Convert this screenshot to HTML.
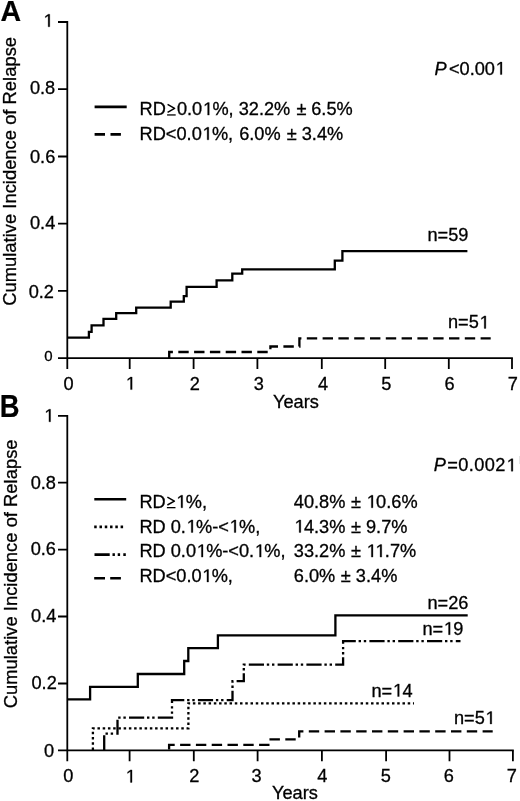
<!DOCTYPE html>
<html><head><meta charset="utf-8">
<style>
html,body{margin:0;padding:0;background:#fff;}
svg{display:block;will-change:transform;}
text{font-family:"Liberation Sans",sans-serif;fill:#000;stroke:#000;stroke-width:0.3px;}
.g1{fill:#000;stroke:#000;stroke-width:0.3px;vector-effect:non-scaling-stroke;}
.gge path{fill:none;stroke:#000;stroke-width:1.5;stroke-linejoin:round;}
.bl{font-weight:bold;font-size:28.5px;stroke-width:0.2px;}
.t{font-size:18.2px;}
.yl{font-size:18.2px;text-anchor:end;}
.xl{font-size:18.2px;text-anchor:middle;}
.ax{stroke:#000;stroke-width:1.8;fill:none;}
.cv{stroke:#000;stroke-width:2.3;fill:none;}
.lg{stroke:#000;stroke-width:2.6;fill:none;}
.hid{fill-opacity:0;stroke-opacity:0;}
</style></head>
<body>
<svg width="520" height="801" viewBox="0 0 520 801">
<rect width="520" height="801" fill="#fff"/>
<!-- ===== Panel A ===== -->
<text class="bl" transform="translate(0.4,20.75) scale(1,1.05)">A</text>
<text transform="translate(16,305.8) rotate(-90)" class="t" style="font-size:18.4px">Cumulative Incidence of Relapse</text>
<!-- axes -->
<path class="ax" d="M67.3,21.1 V369.1 M58,358.2 H512.9"/>
<path class="ax" d="M58,22 H67.3 M58,89.2 H67.3 M58,156.5 H67.3 M58,223.7 H67.3 M58,290.9 H67.3"/>
<path class="ax" d="M129.7,358.2 V369.1 M193.6,358.2 V369.1 M257.4,358.2 V369.1 M321.8,358.2 V369.1 M385.2,358.2 V369.1 M448.8,358.2 V369.1 M512,358.2 V369.1"/>
<text class="yl" x="52.9" y="26.8"><tspan class="hid h1">1</tspan></text>
<text class="yl" x="55.2" y="93.6">0.8</text>
<text class="yl" x="55.3" y="162.6">0.6</text>
<text class="yl" x="55.3" y="228.6">0.4</text>
<text class="yl" x="54" y="297.6">0.2</text>
<text class="yl" x="52.7" y="361.4" style="font-size:15px">0</text>
<text class="xl" x="68.5" y="389.6">0</text>
<text class="xl" x="130.2" y="389.6"><tspan class="hid h1">1</tspan></text>
<text class="xl" x="194.8" y="389.6">2</text>
<text class="xl" x="258.9" y="389.6">3</text>
<text class="xl" x="323" y="389.6">4</text>
<text class="xl" x="386.4" y="389.6">5</text>
<text class="xl" x="449.6" y="389.6">6</text>
<text class="xl" x="512.8" y="389.6">7</text>
<text class="t" x="273" y="408">Years</text>
<text class="t" x="434.5" y="74.6"><tspan font-style="italic">P</tspan><tspan dx="2.3">&lt;0.00<tspan class="hid h1">1</tspan></tspan></text>
<!-- legend A -->
<path class="lg" d="M94.6,106.9 H126.7"/>
<path class="lg" d="M94.6,134.4 H105 M110.5,134.4 H120.9"/>
<text class="t" x="139.6" y="115.1">RD<tspan class="hid hge">≥</tspan><tspan dx="1.1">0.0<tspan class="hid h1">1</tspan>%, 32.2% </tspan><tspan dx="1.2">±</tspan><tspan dx="-0.3"> 6.5%</tspan></text>
<text class="t" x="139.6" y="139.8">RD&lt;0.0<tspan class="hid h1">1</tspan>%, <tspan dx="1">6.0% </tspan><tspan dx="1.1">±</tspan><tspan dx="-0.1"> 3.4%</tspan></text>
<!-- curves A -->
<path class="cv" d="M67.3,337.7 H88.9 V331.9 H91.6 V325.3 H103.5 V318.8 H116.2 V313.1 H136.2 V307.7 H170.7 V301.7 H183.8 V296.2 H186.6 V286.8 H216.6 V280.4 H232.3 V273.6 H242.2 V269.4 H334.8 V260.6 H342.4 V251.2 H467.4"/>
<path class="cv" stroke-dasharray="10.4 5.4" stroke-dashoffset="0.5" d="M169.2,358.2 V352 H270.4 V346.5 H299.4 V338.3 H490.7"/>
<text class="t" x="427.5" y="240.8">n=59</text>
<text class="t" x="448" y="328.4">n=5<tspan class="hid h1">1</tspan></text>

<!-- ===== Panel B ===== -->
<text class="bl" transform="translate(-0.3,416.9) scale(0.96,1.08)">B</text>
<text transform="translate(17.4,708.3) rotate(-90)" class="t" style="font-size:18.4px">Cumulative Incidence of Relapse</text>
<path class="ax" d="M67.3,414.9 V761.2 M58,750.4 H513.8"/>
<path class="ax" d="M58,415.8 H67.3 M58,482.7 H67.3 M58,549.6 H67.3 M58,616.5 H67.3 M58,683.5 H67.3"/>
<path class="ax" d="M129.6,750.4 V761.2 M193.8,750.4 V761.2 M257.6,750.4 V761.2 M321.9,750.4 V761.2 M386.1,750.4 V761.2 M449.5,750.4 V761.2 M512.9,750.4 V761.2"/>
<text class="yl" x="53.7" y="421.8"><tspan class="hid h1">1</tspan></text>
<text class="yl" x="56" y="488.5">0.8</text>
<text class="yl" x="56" y="555.4">0.6</text>
<text class="yl" x="56.4" y="622.3">0.4</text>
<text class="yl" x="56.8" y="688.9">0.2</text>
<text class="yl" x="54" y="756.8">0</text>
<text class="xl" x="68.2" y="782.4">0</text>
<text class="xl" x="130.1" y="782.4"><tspan class="hid h1">1</tspan></text>
<text class="xl" x="194.4" y="782.4">2</text>
<text class="xl" x="256.5" y="782.4">3</text>
<text class="xl" x="322.2" y="782.4">4</text>
<text class="xl" x="385.9" y="782.4">5</text>
<text class="xl" x="448.8" y="782.4">6</text>
<text class="xl" x="511.7" y="782.4">7</text>
<text class="t" x="272" y="799.4">Years</text>
<text class="t" x="433.7" y="471.2"><tspan font-style="italic">P</tspan><tspan dx="1.5" letter-spacing="0.4">=0.002<tspan class="hid h1">1</tspan></tspan></text>
<rect x="519" y="456" width="1" height="8" fill="#e4e4e4"/>
<!-- legend B -->
<path class="lg" d="M94.3,499.3 H126.2"/>
<path class="lg" stroke-dasharray="2.5 2.78" d="M94.2,526.9 H123.3"/>
<path class="lg" stroke-dasharray="15.2 2.8 2.4 2.8 2.4 3.2" d="M94.5,554.6 H125.8"/>
<path class="lg" d="M94.2,578.3 H105 M110.2,578.3 H120.9"/>
<text class="t" x="139.4" y="507.8">RD<tspan class="hid hge">≥</tspan><tspan class="hid h1">1</tspan>%,</text>
<text class="t" x="139.4" y="532.5">RD 0.<tspan class="hid h1">1</tspan>%-&lt;<tspan class="hid h1">1</tspan>%,</text>
<text class="t" x="139.4" y="557.1">RD 0.0<tspan class="hid h1">1</tspan>%-&lt;0.<tspan class="hid h1">1</tspan>%,</text>
<text class="t" x="139.4" y="582">RD&lt;0.0<tspan class="hid h1">1</tspan>%,</text>
<text class="t" x="293.8" y="507.8">40.8% <tspan dx="0.5">±</tspan> <tspan class="hid h1">1</tspan>0.6%</text>
<text class="t" x="293.8" y="532.5"><tspan class="hid h1">1</tspan>4.3% <tspan dx="0.5">±</tspan> 9.7%</text>
<text class="t" x="293.8" y="557.1">33.2% <tspan dx="0.5">±</tspan> <tspan class="hid h1">1</tspan><tspan class="hid h1">1</tspan>.7%</text>
<text class="t" x="293.8" y="582">6.0% <tspan dx="0.5">±</tspan> 3.4%</text>
<!-- curves B -->
<path class="cv" d="M67.3,699.3 H90.1 V686.9 H137.8 V674 H184.2 V661 H188.3 V648.1 H217.9 V635.4 H335.4 V615.4 H467.7"/>
<path class="cv" stroke-dasharray="2.5 2.74" stroke-dashoffset="-0.35" d="M92.9,750.4 V728.4 H188.4 V703.3 H414"/>
<path class="cv" stroke-dasharray="15.2 2.8 2.4 2.8 2.4 3.2" d="M104.2,750.4 V733.7 H117.5 V717.6 H172 V700.1 H232.5 V681.2 H243.8 V664.6 H343.1 V641.2 H460.5"/>
<path class="cv" stroke-dasharray="10.4 5.4" stroke-dashoffset="-0.8" d="M169.1,750.4 V744.8 H270.6 V739.4 H299.2 V731.3 H492.7"/>
<text class="t" x="427.5" y="608.8">n=26</text>
<text class="t" x="422.4" y="634.7">n=<tspan class="hid h1">1</tspan>9</text>
<text class="t" x="371.5" y="696.5">n=<tspan class="hid h1">1</tspan>4</text>
<text class="t" x="453.9" y="724">n=5<tspan class="hid h1">1</tspan></text>
<g id="glyphs"><path class="g1" transform=" translate(42.78,26.80) scale(0.008887,-0.008887)" d="M605,0 L605,1237 L287,1010 L287,1180 L620,1409 L786,1409 L786,0 Z"/>
<path class="g1" transform=" translate(125.14,389.60) scale(0.008887,-0.008887)" d="M605,0 L605,1237 L287,1010 L287,1180 L620,1409 L786,1409 L786,0 Z"/>
<path class="g1" transform=" translate(494.97,74.60) scale(0.008887,-0.008887)" d="M605,0 L605,1237 L287,1010 L287,1180 L620,1409 L786,1409 L786,0 Z"/>
<g class="gge" transform=" translate(165.88,115.10) scale(1.0000)"><path d="M1.7,-10.7 L8.7,-6.75 L1.7,-2.8"/><path d="M1.2,-0.15 H9.8" style="stroke-width:1.3"/></g>
<path class="g1" transform=" translate(202.26,115.10) scale(0.008887,-0.008887)" d="M605,0 L605,1237 L287,1010 L287,1180 L620,1409 L786,1409 L786,0 Z"/>
<path class="g1" transform=" translate(201.79,139.80) scale(0.008887,-0.008887)" d="M605,0 L605,1237 L287,1010 L287,1180 L620,1409 L786,1409 L786,0 Z"/>
<path class="g1" transform=" translate(478.86,328.40) scale(0.008887,-0.008887)" d="M605,0 L605,1237 L287,1010 L287,1180 L620,1409 L786,1409 L786,0 Z"/>
<path class="g1" transform=" translate(43.58,421.80) scale(0.008887,-0.008887)" d="M605,0 L605,1237 L287,1010 L287,1180 L620,1409 L786,1409 L786,0 Z"/>
<path class="g1" transform=" translate(125.04,782.40) scale(0.008887,-0.008887)" d="M605,0 L605,1237 L287,1010 L287,1180 L620,1409 L786,1409 L786,0 Z"/>
<path class="g1" transform=" translate(505.89,471.20) scale(0.008887,-0.008887)" d="M605,0 L605,1237 L287,1010 L287,1180 L620,1409 L786,1409 L786,0 Z"/>
<g class="gge" transform=" translate(165.68,507.80) scale(1.0000)"><path d="M1.7,-10.7 L8.7,-6.75 L1.7,-2.8"/><path d="M1.2,-0.15 H9.8" style="stroke-width:1.3"/></g>
<path class="g1" transform=" translate(175.67,507.80) scale(0.008887,-0.008887)" d="M605,0 L605,1237 L287,1010 L287,1180 L620,1409 L786,1409 L786,0 Z"/>
<path class="g1" transform=" translate(185.90,532.50) scale(0.008887,-0.008887)" d="M605,0 L605,1237 L287,1010 L287,1180 L620,1409 L786,1409 L786,0 Z"/>
<path class="g1" transform=" translate(228.88,532.50) scale(0.008887,-0.008887)" d="M605,0 L605,1237 L287,1010 L287,1180 L620,1409 L786,1409 L786,0 Z"/>
<path class="g1" transform=" translate(196.01,557.10) scale(0.008887,-0.008887)" d="M605,0 L605,1237 L287,1010 L287,1180 L620,1409 L786,1409 L786,0 Z"/>
<path class="g1" transform=" translate(254.17,557.10) scale(0.008887,-0.008887)" d="M605,0 L605,1237 L287,1010 L287,1180 L620,1409 L786,1409 L786,0 Z"/>
<path class="g1" transform=" translate(201.59,582.00) scale(0.008887,-0.008887)" d="M605,0 L605,1237 L287,1010 L287,1180 L620,1409 L786,1409 L786,0 Z"/>
<path class="g1" transform=" translate(365.97,507.80) scale(0.008887,-0.008887)" d="M605,0 L605,1237 L287,1010 L287,1180 L620,1409 L786,1409 L786,0 Z"/>
<path class="g1" transform=" translate(293.80,532.50) scale(0.008887,-0.008887)" d="M605,0 L605,1237 L287,1010 L287,1180 L620,1409 L786,1409 L786,0 Z"/>
<path class="g1" transform=" translate(365.97,557.10) scale(0.008887,-0.008887)" d="M605,0 L605,1237 L287,1010 L287,1180 L620,1409 L786,1409 L786,0 Z"/>
<path class="g1" transform=" translate(374.74,557.10) scale(0.008887,-0.008887)" d="M605,0 L605,1237 L287,1010 L287,1180 L620,1409 L786,1409 L786,0 Z"/>
<path class="g1" transform=" translate(443.15,634.70) scale(0.008887,-0.008887)" d="M605,0 L605,1237 L287,1010 L287,1180 L620,1409 L786,1409 L786,0 Z"/>
<path class="g1" transform=" translate(392.25,696.50) scale(0.008887,-0.008887)" d="M605,0 L605,1237 L287,1010 L287,1180 L620,1409 L786,1409 L786,0 Z"/>
<path class="g1" transform=" translate(484.76,724.00) scale(0.008887,-0.008887)" d="M605,0 L605,1237 L287,1010 L287,1180 L620,1409 L786,1409 L786,0 Z"/></g>
</svg>
</body></html>
